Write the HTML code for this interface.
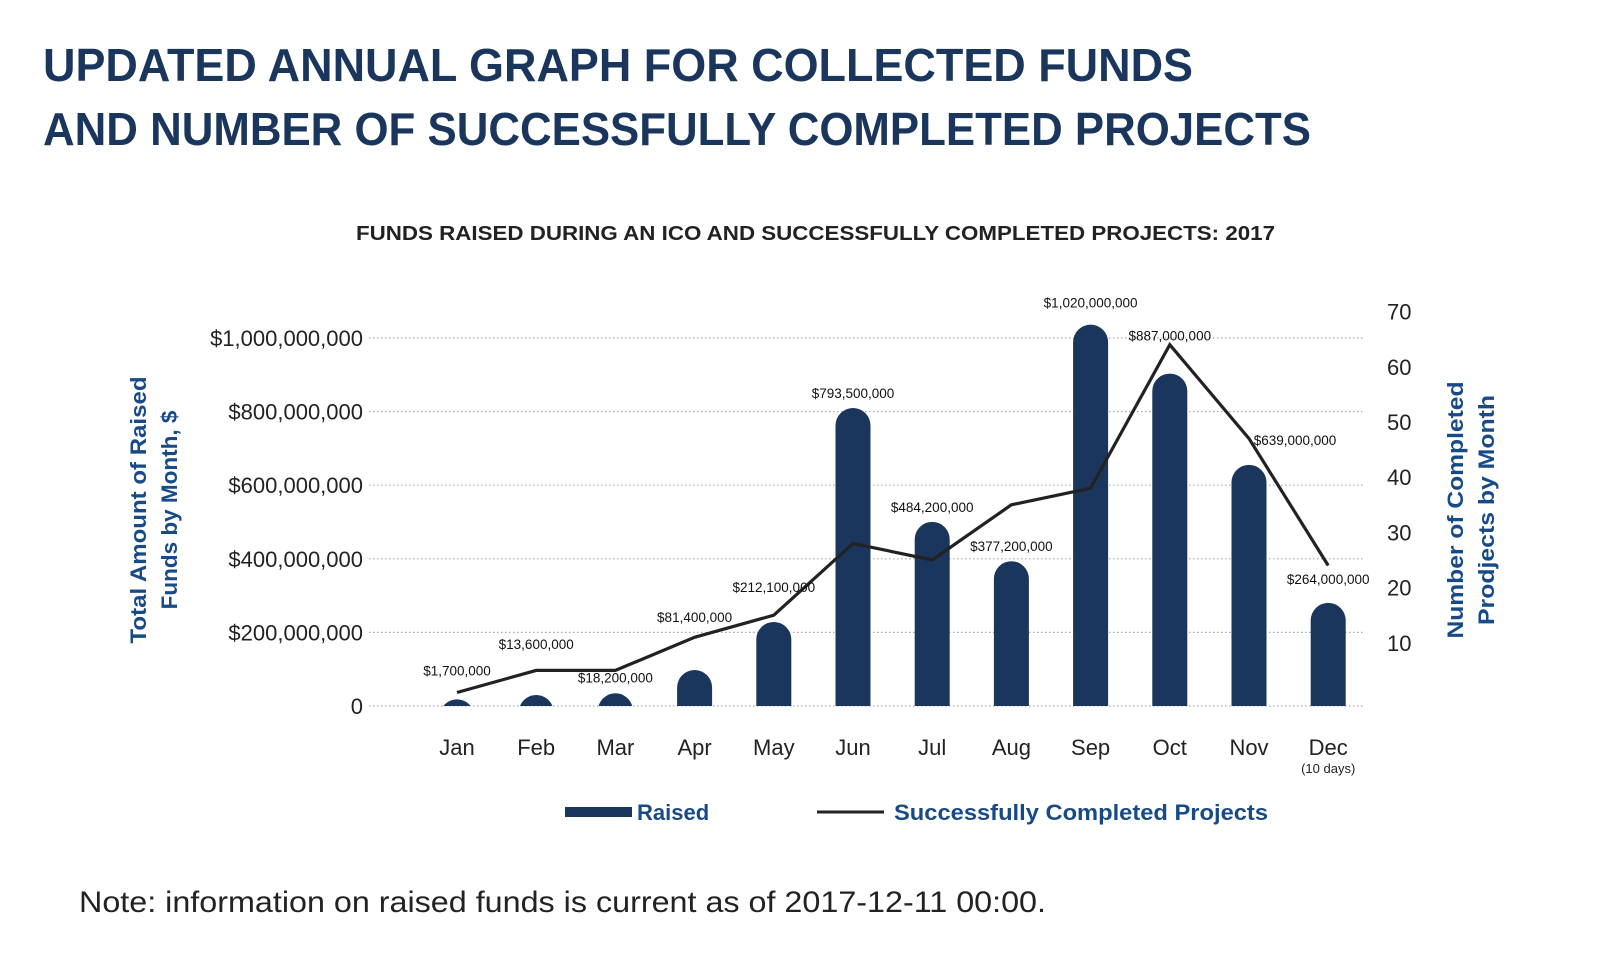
<!DOCTYPE html>
<html><head><meta charset="utf-8">
<style>
html,body{margin:0;padding:0;background:#fff;}
svg{display:block;font-family:"Liberation Sans",sans-serif;}
</style></head>
<body>
<svg id="chart" width="1600" height="953" viewBox="0 0 1600 953" xmlns="http://www.w3.org/2000/svg">
<text x="43" y="81" font-size="46" font-weight="bold" fill="#1b365d" textLength="1150" lengthAdjust="spacingAndGlyphs">UPDATED ANNUAL GRAPH FOR COLLECTED FUNDS</text>
<text x="43" y="145" font-size="46" font-weight="bold" fill="#1b365d" textLength="1268" lengthAdjust="spacingAndGlyphs">AND NUMBER OF SUCCESSFULLY COMPLETED PROJECTS</text>
<text x="356" y="240" font-size="20" font-weight="bold" fill="#222" textLength="919" lengthAdjust="spacingAndGlyphs">FUNDS RAISED DURING AN ICO AND SUCCESSFULLY COMPLETED PROJECTS: 2017</text>
<g id="grid"></g>
<g id="bars"></g>
<g id="line"></g>
<g id="labels"></g>
<g id="axes"></g>
<text transform="translate(146,510) rotate(-90)" text-anchor="middle" font-size="22.5" font-weight="bold" fill="#174a86"><tspan x="0" y="0" textLength="267" lengthAdjust="spacingAndGlyphs">Total Amount of Raised</tspan><tspan x="0" y="31">Funds by Month, $</tspan></text>
<text transform="translate(1463,510) rotate(-90)" text-anchor="middle" font-size="22.5" font-weight="bold" fill="#174a86"><tspan x="0" y="0" textLength="257" lengthAdjust="spacingAndGlyphs">Number of Completed</tspan><tspan x="0" y="31" textLength="230" lengthAdjust="spacingAndGlyphs">Prodjects by Month</tspan></text>
<rect x="565" y="807" width="67" height="10" fill="#1b365d"/>
<text x="637" y="820" font-size="22" font-weight="bold" fill="#174a86">Raised</text>
<line x1="817" y1="812" x2="884" y2="812" stroke="#222" stroke-width="3"/>
<text x="894" y="820" font-size="22" font-weight="bold" fill="#174a86" textLength="374" lengthAdjust="spacingAndGlyphs">Successfully Completed Projects</text>
<text x="79" y="912" font-size="30" fill="#222" textLength="967" lengthAdjust="spacingAndGlyphs">Note: information on raised funds is current as of 2017-12-11 00:00.</text>
</svg>
<script>
const months = ["Jan","Feb","Mar","Apr","May","Jun","Jul","Aug","Sep","Oct","Nov","Dec"];
const raised = [1700000,13600000,18200000,81400000,212100000,793500000,484200000,377200000,1020000000,887000000,639000000,264000000];
const raisedLabels = ["$1,700,000","$13,600,000","$18,200,000","$81,400,000","$212,100,000","$793,500,000","$484,200,000","$377,200,000","$1,020,000,000","$887,000,000","$639,000,000","$264,000,000"];
const projects = [1,5,5,11,15,28,25,35,38,64,47,24];
const leftTicks = [0,200000000,400000000,600000000,800000000,1000000000];
const leftTickLabels = ["0","$200,000,000","$400,000,000","$600,000,000","$800,000,000","$1,000,000,000"];
const rightTicks = [10,20,30,40,50,60,70];
const labelNudge = [-24,-46,-11,-48,-30,-10,-10,-10,-17,-33,-20,-19];

const NS="http://www.w3.org/2000/svg";
const yL = v => 706 - v/200000000*73.6;
const yR = v => 698 - v*5.52;
const xC = i => 457 + i*79.2;
function mk(tag, attrs, parent, text){
  const e=document.createElementNS(NS,tag);
  for(const k in attrs) e.setAttribute(k,attrs[k]);
  if(text!==undefined) e.textContent=text;
  document.getElementById(parent).appendChild(e);
  return e;
}
leftTicks.forEach((t,i)=>{
  const g=mk('line',{x1:369,x2:1364,y1:yL(t),y2:yL(t),stroke:'#aaa','stroke-width':1.2,'stroke-dasharray':'1.5 2.5'},'grid');
  
  
  const l=mk('text',{x:363,y:yL(t)+8,'text-anchor':'end','font-size':22,fill:'#222'},'axes',leftTickLabels[i]);
  
  
});
rightTicks.forEach(t=>{
  const l=mk('text',{x:1387,y:yR(t)+8,'font-size':22,fill:'#222'},'axes',String(t));
  
  
});
const w=35, r=17.5;
raised.forEach((v,i)=>{
  const x=xC(i), base=yL(0);
  let top=yL(v)-6;
  const h=base-top;
  let d;
  if(h>=r){
    d=`M${x-w/2},${base} L${x-w/2},${top+r} A${r},${r} 0 0 1 ${x+w/2},${top+r} L${x+w/2},${base} Z`;
  } else {
    const hw=Math.sqrt(r*r-(r-h)*(r-h));
    d=`M${x-hw},${base} A${r},${r} 0 0 1 ${x+hw},${base} Z`;
  }
  const b=mk('path',{d:d,fill:'#1b365d'},'bars');
  
  
  const lx = i===10 ? x+46 : x;
  const t=mk('text',{x:lx,y:top+labelNudge[i],'text-anchor':'middle','font-size':13.5,fill:'#111'},'labels',raisedLabels[i]);
  
  
  const m=mk('text',{x:x,y:755,'text-anchor':'middle','font-size':22,fill:'#222'},'axes',months[i]);
  
  
});
const nd=mk('text',{x:xC(11),y:773,'text-anchor':'middle','font-size':13,fill:'#222'},'axes','(10 days)');


const pts=projects.map((v,i)=>xC(i)+','+yR(v)).join(' ');
const pl=mk('polyline',{points:pts,fill:'none',stroke:'#222','stroke-width':3.2,'stroke-linejoin':'miter'},'line');


</script>
</body></html>
